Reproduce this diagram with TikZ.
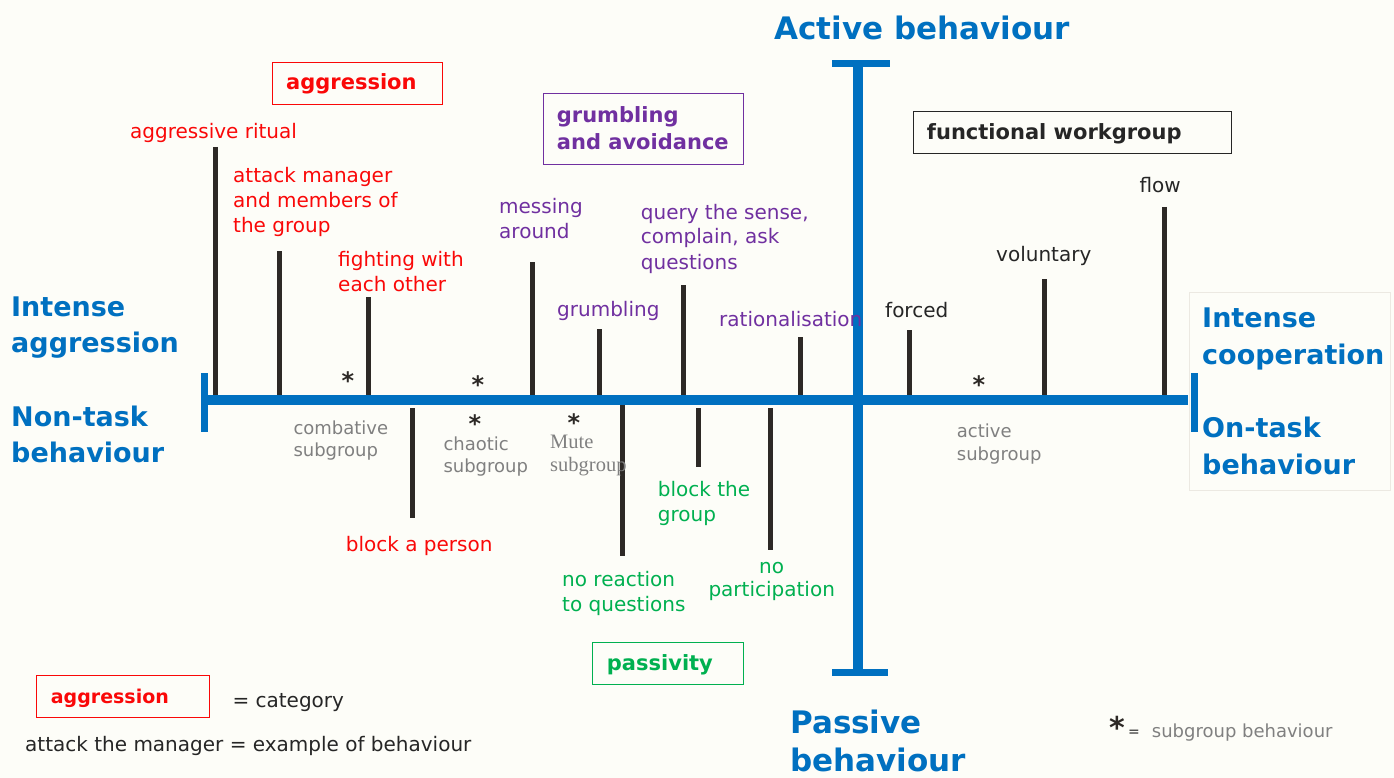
\documentclass[tikz,border=0pt]{standalone}
\usepackage{fontspec}
\setmainfont{DejaVu Sans}
\newfontfamily\mutefont{Liberation Serif}
\usepackage{xcolor}
\usepackage{tikz}
\usetikzlibrary{positioning}
\definecolor{axisblue}{RGB}{0,112,192}
\definecolor{tickdark}{RGB}{45,41,38}
\definecolor{catred}{RGB}{250,8,8}
\definecolor{catpurple}{RGB}{112,48,160}
\definecolor{catgreen}{RGB}{0,176,80}
\definecolor{textdark}{RGB}{38,38,38}
\definecolor{subgray}{RGB}{128,128,128}
\definecolor{bgcream}{RGB}{253,253,248}
\tikzset{
    mainaxis/.style={draw=axisblue, line width=9.5pt},
    axiscap/.style={draw=axisblue, line width=7pt},
    behavbar/.style={draw=tickdark, line width=5pt},
    % multi-line nodes: the base anchor sits on the last line
    behav/.style={inner sep=0pt, anchor=base west, align=left, font=\fontsize{20}{25}\selectfont},
    subgrp/.style={inner sep=0pt, anchor=base west, align=left, text=subgray, font=\fontsize{18}{22.5}\selectfont},
    pole/.style={inner sep=0pt, anchor=base west, align=left, text=axisblue, font=\bfseries\fontsize{27}{36.5}\selectfont},
    bigpole/.style={pole, font=\bfseries\fontsize{31}{38.5}\selectfont},
    catbox/.style={rectangle, line width=1.3pt, inner sep=0pt, anchor=north west},
    catlabel/.style={inner sep=0pt, anchor=base west, align=left, font=\bfseries\fontsize{21}{27}\selectfont},
    substar/.style={inner sep=0pt, anchor=base, text=tickdark, font=\bfseries\fontsize{24}{24}\selectfont}
}

\begin{document}
\begin{tikzpicture}[x=1pt, y=-1pt]

    % Canvas
    \fill[bgcream] (0,0) rectangle (1394,778);
    \useasboundingbox (0,0) rectangle (1394,778);

    % --- BEHAVIOUR BARS (above the axis) ---
    \coordinate (ritualTop) at (215,147);     \coordinate (ritualFoot) at (215,398);
    \coordinate (attackTop) at (279,251);     \coordinate (attackFoot) at (279,398);
    \coordinate (fightTop) at (368,297);      \coordinate (fightFoot) at (368,398);
    \coordinate (messTop) at (532,262);       \coordinate (messFoot) at (532,398);
    \coordinate (grumbleTop) at (599,329);    \coordinate (grumbleFoot) at (599,398);
    \coordinate (queryTop) at (683,285);      \coordinate (queryFoot) at (683,398);
    \coordinate (rationTop) at (800,337);     \coordinate (rationFoot) at (800,398);
    \coordinate (forcedTop) at (909,330);     \coordinate (forcedFoot) at (909,398);
    \coordinate (volTop) at (1044,279);       \coordinate (volFoot) at (1044,398);
    \coordinate (flowTop) at (1164,207);      \coordinate (flowFoot) at (1164,398);

    \draw[behavbar] (ritualTop) -- (ritualFoot);
    \draw[behavbar] (attackTop) -- (attackFoot);
    \draw[behavbar] (fightTop) -- (fightFoot);
    \draw[behavbar] (messTop) -- (messFoot);
    \draw[behavbar] (grumbleTop) -- (grumbleFoot);
    \draw[behavbar] (queryTop) -- (queryFoot);
    \draw[behavbar] (rationTop) -- (rationFoot);
    \draw[behavbar] (forcedTop) -- (forcedFoot);
    \draw[behavbar] (volTop) -- (volFoot);
    \draw[behavbar] (flowTop) -- (flowFoot);

    % --- BEHAVIOUR BARS (below the axis) ---
    \coordinate (blockPersonTop) at (412,408); \coordinate (blockPersonFoot) at (412,518);
    \coordinate (noReactTop) at (622,403);     \coordinate (noReactFoot) at (622,556);
    \coordinate (blockGroupTop) at (698,408);  \coordinate (blockGroupFoot) at (698,467);
    \coordinate (noPartTop) at (770,408);      \coordinate (noPartFoot) at (770,550);

    \draw[behavbar] (blockPersonTop) -- (blockPersonFoot);
    \draw[behavbar] (noReactTop) -- (noReactFoot);
    \draw[behavbar] (blockGroupTop) -- (blockGroupFoot);
    \draw[behavbar] (noPartTop) -- (noPartFoot);

    % --- AXES ---
    \coordinate (axisW) at (205,400);
    \coordinate (axisE) at (1188,400);
    \coordinate (axisN) at (858,64);
    \coordinate (axisS) at (858,672);
    \draw[mainaxis] (axisW) -- (axisE);
    \draw[mainaxis] (axisN) -- (axisS);

    % End caps
    \coordinate (capWtop) at (204,373);   \coordinate (capWbot) at (204,432);
    \coordinate (capEtop) at (1194,373);  \coordinate (capEbot) at (1194,432);
    \coordinate (capNleft) at (832,64);   \coordinate (capNright) at (890,64);
    \coordinate (capSleft) at (832,672);  \coordinate (capSright) at (888,672);
    \draw[axiscap] (capWtop) -- (capWbot);
    \draw[axiscap] (capEtop) -- (capEbot);
    \draw[axiscap] (capNleft) -- (capNright);
    \draw[axiscap] (capSleft) -- (capSright);

    % --- POLES ---
    \node[pole] (aggPole) at (11,352.7) {Intense\\aggression};
    \node[pole] (nonTaskPole) at (11,462.7) {Non-task\\behaviour};
    \draw[draw={rgb,255:red,236;green,233;blue,226}, line width=1pt] (1189,292) rectangle (1390,490);
    \node[pole] (coopPole) at (1202,364) {Intense\\cooperation};
    \node[pole] (onTaskPole) at (1202,474.3) {On-task\\behaviour};
    \node[bigpole] (activePole) at (774,40) {Active behaviour};
    \node[bigpole] (passivePole) at (790,771.7) {Passive\\behaviour};

    % --- CATEGORIES ---
    \node[catbox, draw=catred, minimum width=170, minimum height=42] (aggBox) at (272,62) {};
    \node[catlabel, text=catred] (aggCat) at (286,90) {aggression};
    \node[catbox, draw=catpurple, minimum width=200, minimum height=71] (grumbleBox) at (543,93) {};
    \node[catlabel, text=catpurple] (grumbleCat) at (556.7,150) {grumbling\\and avoidance};
    \node[catbox, draw=textdark, minimum width=318, minimum height=42] (workBox) at (913,111) {};
    \node[catlabel, text=textdark] (workCat) at (926.7,140) {functional workgroup};
    \node[catbox, draw=catgreen, minimum width=151, minimum height=42] (passBox) at (592,642) {};
    \node[catlabel, text=catgreen] (passCat) at (606.7,670) {passivity};

    % --- EXAMPLES OF BEHAVIOUR ---
    % aggression
    \node[behav, text=catred] (ritualLbl) at (130,139) {aggressive ritual};
    \node[behav, text=catred] (attackLbl) at (233,232.5) {attack manager\\and members of\\the group};
    \node[behav, text=catred] (fightLbl) at (338,291.7) {fighting with\\each other};
    \node[behav, text=catred] (blockPersonLbl) at (345.7,551.7) {block a person};
    % grumbling and avoidance
    \node[behav, text=catpurple] (messLbl) at (499,238.3) {messing\\around};
    \node[behav, text=catpurple] (grumbleLbl) at (557,316.7) {grumbling};
    \node[behav, text=catpurple] (queryLbl) at (640.7,269) {query the sense,\\complain, ask\\questions};
    \node[behav, text=catpurple] (rationLbl) at (719,326) {rationalisation};
    % passivity
    \node[behav, text=catgreen] (blockGroupLbl) at (657.7,521) {block the\\group};
    \node[behav, text=catgreen] (noReactLbl) at (562,611.7) {no reaction\\to questions};
    \node[behav, text=catgreen, align=center, font=\fontsize{20}{23.5}\selectfont] (noPartLbl) at (708.3,596.7) {no\\participation};
    % functional workgroup
    \node[behav, text=textdark] (forcedLbl) at (885,317.3) {forced};
    \node[behav, text=textdark] (volLbl) at (996,261.7) {voluntary};
    \node[behav, text=textdark] (flowLbl) at (1139.3,192.7) {flow};

    % --- SUBGROUPS ---
    \node[substar] (combatStar) at (348,389) {*};
    \node[substar] (chaosStarA) at (478,393) {*};
    \node[substar] (chaosStarB) at (475,432) {*};
    \node[substar] (muteStar) at (574,431) {*};
    \node[substar] (activeStar) at (979,393) {*};
    \node[subgrp] (combatLbl) at (293.3,456.7) {combative\\subgroup};
    \node[subgrp] (chaosLbl) at (443.3,472.7) {chaotic\\subgroup};
    \node[subgrp, font=\mutefont\fontsize{20.5}{22.5}\selectfont] (muteLbl) at (550,471) {Mute\\subgroup};
    \node[subgrp] (activeLbl) at (956.7,460) {active\\subgroup};

    % --- LEGEND ---
    \node[catbox, draw=catred, minimum width=173, minimum height=42] (legendBox) at (36,674.5) {};
    \node[catlabel, text=catred, font=\bfseries\fontsize{19}{24}\selectfont] (legendCat) at (50.7,703.3) {aggression};
    \node[behav, text=textdark] (legendCatEq) at (232.3,707.7) {= category};
    \node[behav, text=textdark] (legendExample) at (25,751.7) {attack the manager = example of behaviour};
    \node[substar, font=\bfseries\fontsize{30}{30}\selectfont] (legendStar) at (1117,738) {*};
    \node[inner sep=0pt, text=textdark, font=\fontsize{14}{14}\selectfont] (legendStarEq) at (1134,733) {=};
    \node[subgrp] (legendSub) at (1151.7,737.7) {subgroup behaviour};

\end{tikzpicture}
\end{document}
